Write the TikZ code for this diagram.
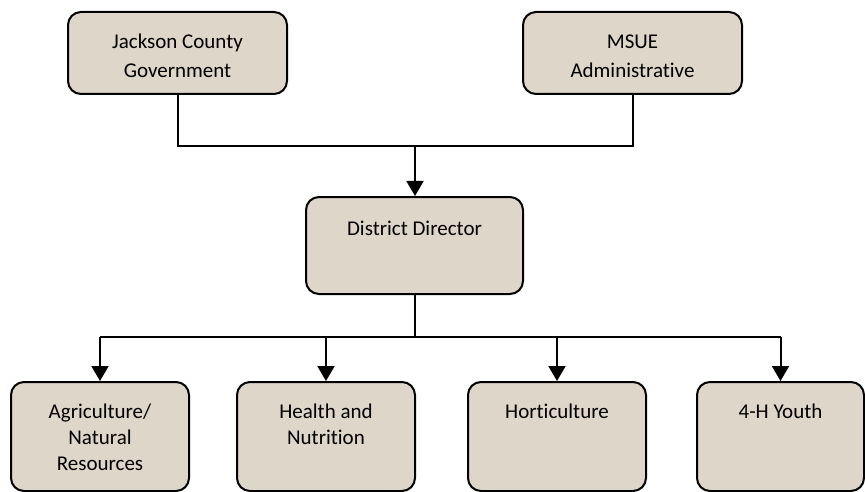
\documentclass[tikz,border=0pt]{standalone}
\usepackage{fontspec}
\setmainfont[RawFeature={-liga}]{Carlito}
\usetikzlibrary{arrows.meta}
\definecolor{boxfill}{RGB}{221,214,201}
\begin{document}
\begin{tikzpicture}[x=1pt,y=-1pt,
  box/.style={draw=black,line width=2pt,fill=boxfill,rounded corners=13pt,inner sep=0pt},
  lbl/.style={anchor=base,align=center,inner sep=0pt,font=\fontsize{21}{29}\selectfont},
  lbls/.style={anchor=base,align=center,inner sep=0pt,font=\fontsize{21}{26.3}\selectfont},
  conn/.style={line width=2pt},
  arr/.style={line width=2pt,-{Triangle[width=17pt,length=15pt]}}]
\useasboundingbox (0,0) rectangle (865,492);
% boxes
\node[box,minimum width=219pt,minimum height=82pt] (jcg) at (177.5,53) {};
\node[box,minimum width=219pt,minimum height=82pt] (msue) at (632.5,53) {};
\node[box,minimum width=217pt,minimum height=97pt] (dd) at (414.5,245.5) {};
\node[box,minimum width=178pt,minimum height=109pt] (b1) at (100,436.5) {};
\node[box,minimum width=178pt,minimum height=109pt] (b2) at (326,436.5) {};
\node[box,minimum width=178pt,minimum height=109pt] (b3) at (557,436.5) {};
\node[box,minimum width=167pt,minimum height=109pt] (b4) at (780.5,436.5) {};
% texts (base anchor = baseline of last line)
\node[lbl] (tjcg) at (177.5,78) {Jackson County\\Government};
\node[lbl] (tmsue) at (632.5,78) {MSUE\\Administrative};
\node[lbl] (tdd) at (414.5,235) {District Director};
\node[lbls] (tb1) at (100,470.6) {Agriculture/\\Natural\\Resources};
\node[lbls] (tb2) at (326,444.3) {Health and\\Nutrition};
\node[lbls] (tb3) at (557,418) {Horticulture};
\node[lbls] (tb4) at (780.5,418) {4-H Youth};
% connectors
\coordinate (topbus) at (415,146);
\coordinate (botbus) at (415,337);
\draw[conn] (jcg.south) -- (jcg.south |- topbus) -- (msue.south |- topbus) -- (msue.south);
\draw[arr] (topbus) -- (dd.north -| topbus);
\draw[conn] (dd.south -| botbus) -- (botbus);
\draw[conn] (b1.north |- botbus) -- (b4.north |- botbus);
\draw[arr] (b1.north |- botbus) -- (b1.north);
\draw[arr] (b2.north |- botbus) -- (b2.north);
\draw[arr] (b3.north |- botbus) -- (b3.north);
\draw[arr] (b4.north |- botbus) -- (b4.north);
\end{tikzpicture}
\end{document}
